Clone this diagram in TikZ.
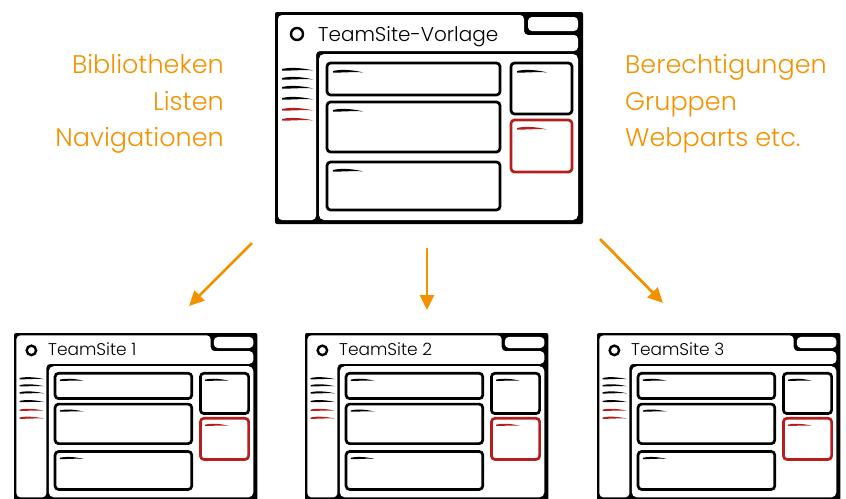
\documentclass[tikz,border=0pt]{standalone}
\usepackage{fontspec}
\IfFontExistsTF{Poppins Light}{\setmainfont{Poppins Light}}{\setmainfont{Poppins}}
\usetikzlibrary{arrows.meta}
\definecolor{orng}{RGB}{243,146,0}
\definecolor{rd}{RGB}{182,30,30}
\tikzset{
 winbox/.style={draw=black, line width=2.7pt, fill=white, rounded corners=3.5pt},
 redbox/.style={winbox, draw=rd},
 flow/.style={draw=orng, line width=2.8pt, -{Triangle[length=15pt,width=14pt]}},
 lbl/.style={text=orng, font=\fontsize{25.5}{25.5}\selectfont, inner sep=0pt},
}
\newcommand{\brushstroke}[4]{%
  \fill[#3, shift={(#1,#2)}] (0,0) .. controls ({0.3*#4},-2.2) and ({0.7*#4},-0.8) .. (#4,1.4) .. controls ({0.65*#4},0.6) and ({0.3*#4},1.8) .. (0,1.6) -- cycle;}
\newcommand{\sitewin}[6]{%
\begin{scope}[shift={(#2,#3)}, scale=#4]
 \fill[black, rounded corners=2] (0,0) rectangle (308,212);
 \fill[white, rounded corners=4] (3,3) -- (249,3) -- (249,23) -- (303,23) -- (303,39) -- (41,39) -- (41,208) -- (3,208) -- cycle;
 \fill[white, rounded corners=4] (253,5) rectangle (303,19);
 \fill[white, rounded corners=5] (44,42) rectangle (303,208);
 \draw[black, line width=2.4] (22,22) circle (6);
 \node[anchor=base west, inner sep=0pt, font=\fontsize{#6}{#6}\selectfont] (#1) at (43,29) {#5};
 \draw[winbox] (52,51) rectangle (225,83);
 \draw[winbox] (52,90) rectangle (225,140);
 \draw[winbox] (52,150) rectangle (225,198);
 \draw[winbox] (236,51) rectangle (297,102);
 \draw[redbox] (236,108) rectangle (297,160);
 \brushstroke{58}{59}{black}{30}
 \brushstroke{58}{98}{black}{30}
 \brushstroke{58}{158}{black}{30}
 \brushstroke{242}{59}{black}{30}
 \brushstroke{242}{116}{rd}{30}
 \brushstroke{7}{57}{black}{31}
 \brushstroke{7}{66}{black}{31}
 \brushstroke{7}{75}{black}{31}
 \brushstroke{7}{86}{black}{31}
 \brushstroke{7}{97}{rd}{31}
 \brushstroke{7}{107}{rd}{31}
\end{scope}}
\begin{document}
\begin{tikzpicture}[x=1pt, y=-1pt]
\useasboundingbox (0,0) rectangle (846,498);
\clip (0,0) rectangle (846,498);
\sitewin{main}{275}{12}{1}{TeamSite-Vorlage}{20}
\sitewin{ts1}{14}{333}{0.79}{TeamSite 1}{17}
\sitewin{ts2}{305}{333}{0.79}{TeamSite 2}{17}
\sitewin{ts3}{597}{333}{0.79}{TeamSite 3}{17}
\node[lbl, anchor=base east] (l1) at (224,73) {Bibliotheken};
\node[lbl, anchor=base east] (l2) at (224,110) {Listen};
\node[lbl, anchor=base east] (l3) at (224,146) {Navigationen};
\node[lbl, anchor=base west] (r1) at (625,73) {Berechtigungen};
\node[lbl, anchor=base west] (r2) at (625,110) {Gruppen};
\node[lbl, anchor=base west] (r3) at (625,146) {Webparts etc.};
\coordinate (a1s) at (252,243);
\coordinate (a1e) at (189,306);
\coordinate (a2s) at (427,248);
\coordinate (a2e) at (427,310);
\coordinate (a3s) at (600,239);
\coordinate (a3e) at (663,303);
\draw[flow] (a1s) -- (a1e);
\draw[flow] (a2s) -- (a2e);
\draw[flow] (a3s) -- (a3e);
\end{tikzpicture}
\end{document}
